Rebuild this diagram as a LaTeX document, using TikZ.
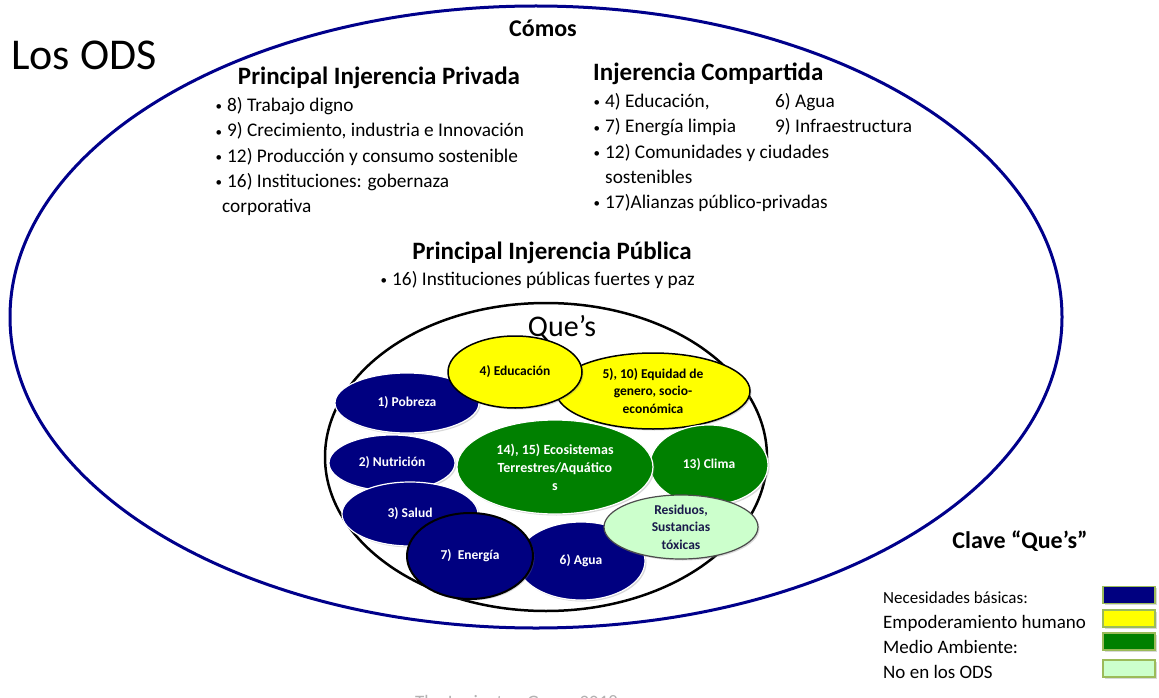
\documentclass[tikz,border=0pt]{standalone}
\usepackage{fontspec}
\setmainfont{Carlito}
\usetikzlibrary{shapes.geometric,shadows}
\definecolor{odsblue}{RGB}{0,0,139}
\definecolor{navyE}{RGB}{0,0,128}
\definecolor{greenE}{RGB}{0,128,0}
\definecolor{yellowE}{RGB}{255,255,0}
\definecolor{lightE}{RGB}{204,255,204}
\definecolor{swborder}{RGB}{155,187,89}
\definecolor{resTxt}{RGB}{25,25,75}
\newcommand\bul{\llap{\raisebox{1pt}{\fontsize{13}{13}\selectfont •}\hspace{5pt}}}
\begin{document}
\begin{tikzpicture}[x=1pt,y=-1pt,
  title/.style={font=\fontsize{44}{50}\selectfont, anchor=base west, inner sep=0pt},
  head/.style={font=\fontsize{25}{30}\selectfont\bfseries, anchor=base, inner sep=0pt},
  item/.style={font=\fontsize{19.3}{23}\selectfont, anchor=base west, inner sep=0pt},
  ell/.style={ellipse, inner sep=0pt, align=center, font=\fontsize{13.5}{17.5}\selectfont\bfseries,
    drop shadow={shadow xshift=1.5pt, shadow yshift=-1.5pt, opacity=0.3}},
  basic/.style={ell, fill=navyE, draw=white, line width=1.2pt, text=white},
  empow/.style={ell, fill=yellowE, draw=black, line width=1.5pt, text=black},
  envir/.style={ell, fill=greenE, draw=white, line width=1.2pt, text=white},
  notods/.style={ell, fill=lightE, draw=black!70, line width=1.2pt, text=resTxt},
  swatch/.style={rectangle, draw=swborder, line width=1.2pt, minimum width=52pt, minimum height=17pt, inner sep=0pt,
    drop shadow={shadow xshift=1.5pt, shadow yshift=-1.5pt, opacity=0.3}},
  legend/.style={font=\fontsize{19}{23}\selectfont, anchor=base west, inner sep=0pt}
]
\useasboundingbox (0,0) rectangle (1159,698);
\clip (0,0) rectangle (1159,698);
\fill[white] (0,0) rectangle (1159,698);

% outer ellipse
\draw[odsblue, line width=3pt] (536,317) ellipse (526 and 311);

\node[title] (ods) at (11,70) {Los ODS};
\node[head, font=\fontsize{24}{28}\selectfont\bfseries] (comos) at (543,37) {Cómos};

% private
\node[head] (priv) at (379,85) {Principal Injerencia Privada};
\node[item] (pv1) at (227,112) {\bul 8) Trabajo digno};
\node[item] (pv2) at (227,137) {\bul 9) Crecimiento, industria e Innovación};
\node[item] (pv3) at (227,162) {\bul 12) Producción y consumo sostenible};
\node[item] (pv4) at (227,187) {\bul 16) Instituciones: gobernaza};
\node[item] (pv5) at (222,212) {corporativa};

% shared
\node[head, anchor=base west] (comp) at (593,81) {Injerencia Compartida};
\node[item] (cp1) at (605,108) {\bul 4) Educación,};
\node[item] (cp1b) at (775,108) {6) Agua};
\node[item] (cp2) at (605,133) {\bul 7) Energía limpia};
\node[item] (cp2b) at (775,133) {9) Infraestructura};
\node[item] (cp3) at (605,158) {\bul 12) Comunidades y ciudades};
\node[item] (cp4) at (605,183) {sostenibles};
\node[item] (cp5) at (605,208) {\bul 17)Alianzas público-privadas};

% public
\node[head] (pub) at (552,259) {Principal Injerencia Pública};
\node[item] (pb1) at (392,285) {\bul 16) Instituciones públicas fuertes y paz};

% inner ellipse
\draw[black, line width=2.5pt] (546,457) ellipse (221 and 154);
\node[font=\fontsize{30}{34}\selectfont, anchor=base, inner sep=0pt] (ques) at (562,336) {Que’s};

% the "que's"
\node[basic, minimum width=144pt, minimum height=60pt] (pob) at (407,403) {1) Pobreza};
\node[basic, minimum width=126pt, minimum height=56pt] (nut) at (392,463) {2) Nutrición};
\node[basic, minimum width=136pt, minimum height=64pt] (sal) at (410,514) {3) Salud};
\node[empow, minimum width=194pt, minimum height=76pt] (equ) at (653,391) {5), 10) Equidad de\\genero, socio-\\económica};
\node[empow, minimum width=134pt, minimum height=72pt] (edu) at (515,372) {4) Educación};
\node[envir, minimum width=118pt, minimum height=80pt] (cli) at (709,465) {13) Clima};
\node[envir, minimum width=196pt, minimum height=94pt, font=\fontsize{14}{18}\selectfont\bfseries] (eco) at (555,467) {14), 15) Ecosistemas\\Terrestres/Aquático\\s};
\node[basic, minimum width=128pt, minimum height=78pt] (agu) at (581,561) {6) Agua};
\node[basic, draw=black, line width=2pt, minimum width=126pt, minimum height=86pt] (ene) at (470,556) {7)\ \ Energía};
\node[notods, inner sep=-4pt, minimum width=154pt, minimum height=64pt] (res) at (681,527) {Residuos,\\Sustancias\\tóxicas};

% legend
\node[font=\fontsize{24}{28}\selectfont\bfseries, anchor=base, inner sep=0pt] (clave) at (1020,548) {Clave “Que’s”};
\node[legend, font=\fontsize{17}{20}\selectfont] (lg1) at (883,603) {Necesidades básicas:};
\node[legend] (lg2) at (883,628) {Empoderamiento humano};
\node[legend] (lg3) at (883,653) {Medio Ambiente:};
\node[legend] (lg4) at (883,678) {No en los ODS};
\node[swatch, fill=navyE] (sw1) at (1129,595) {};
\node[swatch, fill=yellowE] (sw2) at (1129,618.5) {};
\node[swatch, fill=greenE] (sw3) at (1129,641.5) {};
\node[swatch, fill=lightE] (sw4) at (1129,668.5) {};

% footer (cut off at the lower edge, as in the source)
\node[font=\fontsize{19}{23}\selectfont, text=black!30, anchor=base west, inner sep=0pt] (foot) at (415,708) {The Lexington Group 2018};
\end{tikzpicture}
\end{document}
